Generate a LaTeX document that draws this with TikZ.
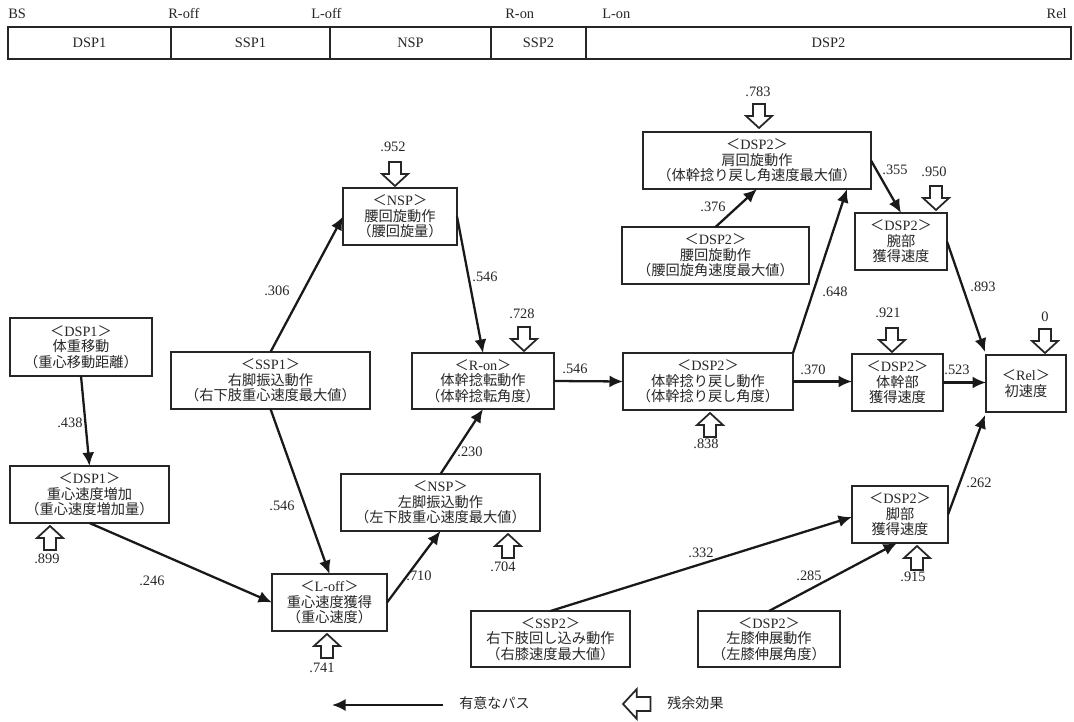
\documentclass[tikz,border=0pt]{standalone}
\usepackage{fontspec}
\setmainfont{Liberation Serif}
\newfontfamily\cjk{Noto Sans CJK JP}
\usetikzlibrary{arrows.meta,calc}
\newcommand\tagx[1]{＜{\rmfamily #1}＞}
\begin{document}
\begin{tikzpicture}[x={(0.02cm,0)},y={(0,-0.02cm)},
  bx/.style 2 args={draw=black!85, line width=1.1pt, inner sep=0pt, outer sep=0pt, align=center,
    minimum width=#1*0.02cm, minimum height=#2*0.02cm,
    font=\cjk\fontsize{8.1}{8.9}\selectfont, text=black!85},
  seg/.style 2 args={draw=black!85, line width=1pt, inner sep=0pt, outer sep=0pt,
    minimum width=#1*0.02cm, minimum height=#2*0.02cm,
    font=\fontsize{8.2}{9}\selectfont, text=black!85},
  arr/.style={draw=black!90, line width=1.3pt, -{Latex[length=0.27cm,width=0.24cm]}},
  lbl/.style={font=\fontsize{8.2}{9}\selectfont, inner sep=0pt, text=black!85},
  jlbl/.style={font=\cjk\fontsize{8}{9}\selectfont, inner sep=0pt, text=black!85},
  resline/.style={draw=black!85, line width=1pt, fill=white, line join=miter},
  resid/.pic={\path[resline] (-6,-24) -- (6,-24) -- (6,-12) -- (13,-12) -- (0,0) -- (-13,-12) -- (-6,-12) -- cycle;}
]
\useasboundingbox (0,0) rectangle (1074,722);

% timeline
\node[seg={163}{32}] (tA) at (89.5,43) {DSP1};
\node[seg={159}{32}] (tB) at (250.5,43) {SSP1};
\node[seg={161}{32}] (tC) at (410.5,43) {NSP};
\node[seg={95}{32}] (tD) at (538.5,43) {SSP2};
\node[seg={485}{32}] (tE) at (828.5,43) {DSP2};
\node[lbl, anchor=west] (mBS) at (8,14) {BS};
\node[lbl, anchor=west] (mRoff) at (168,14) {R-off};
\node[lbl, anchor=west] (mLoff) at (311,14) {L-off};
\node[lbl, anchor=west] (mRon) at (505,14) {R-on};
\node[lbl, anchor=west] (mLon) at (602,14) {L-on};
\node[lbl, anchor=east] (mRel) at (1067,14) {Rel};

% boxes
\node[bx={142}{58}] (d1a) at (81,347) {\tagx{DSP1}\\体重移動\\（重心移動距離）};
\node[bx={159}{57}] (d1b) at (89.5,494.5) {\tagx{DSP1}\\重心速度増加\\（重心速度増加量）};
\node[bx={199}{57}] (s1) at (270.5,380.5) {\tagx{SSP1}\\右脚振込動作\\（右下肢重心速度最大値）};
\node[bx={114}{57}] (nspw) at (400,216.5) {\tagx{NSP}\\腰回旋動作\\（腰回旋量）};
\node[bx={142}{56}] (ron) at (483,381) {\tagx{R-on}\\体幹捻転動作\\（体幹捻転角度）};
\node[bx={199}{57}] (nspl) at (440.5,502.5) {\tagx{NSP}\\左脚振込動作\\（左下肢重心速度最大値）};
\node[bx={115}{57}] (loff) at (329.5,602.5) {\tagx{L-off}\\重心速度獲得\\（重心速度）};
\node[bx={228}{57}] (sh) at (757,160.5) {\tagx{DSP2}\\肩回旋動作\\（体幹捻り戻し角速度最大値）};
\node[bx={187}{57}] (w2) at (715.5,255.5) {\tagx{DSP2}\\腰回旋動作\\（腰回旋角速度最大値）};
\node[bx={92}{57}] (arm) at (901,241.5) {\tagx{DSP2}\\腕部\\獲得速度};
\node[bx={170}{57}] (tw) at (708,381.5) {\tagx{DSP2}\\体幹捻り戻し動作\\（体幹捻り戻し角度）};
\node[bx={91}{57}] (trunk) at (897.5,382.5) {\tagx{DSP2}\\体幹部\\獲得速度};
\node[bx={80}{57}] (rel) at (1026,383.5) {\tagx{Rel}\\初速度};
\node[bx={96}{57}] (leg) at (900,514.5) {\tagx{DSP2}\\脚部\\獲得速度};
\node[bx={159}{56}] (ssp2) at (550.5,639) {\tagx{SSP2}\\右下肢回し込み動作\\（右膝速度最大値）};
\node[bx={142}{56}] (knee) at (769,639) {\tagx{DSP2}\\左膝伸展動作\\（左膝伸展角度）};

% paths
\draw[arr] (d1a.south) -- (d1b.north);
\draw[arr] (d1b.south) -- (loff.west);
\draw[arr] (s1.north) -- (nspw.west);
\draw[arr] (s1.south) -- (loff.north);
\draw[arr] (nspw.east) -- (ron.north);
\draw[arr] (loff.east) -- (nspl.south);
\draw[arr] (nspl.north) -- (ron.south);
\draw[arr] (ron.east) -- (tw.west);
\draw[arr] (tw.north east) -- ($(sh.south east)+(-24,0)$);
\draw[arr] (w2.north) -- (sh.south);
\draw[arr] (sh.east) -- (arm.north);
\draw[arr] (tw.east) -- (tw.east -| trunk.west);
\draw[arr] (arm.east) -- ($(rel.north west)+(-1,-3)$);
\draw[arr] (trunk.east) -- (trunk.east -| rel.west);
\draw[arr] (leg.east) -- ($(rel.south west)+(-1,3)$);
\draw[arr] (ssp2.north) -- ($(leg.west)+(0,2.5)$);
\draw[arr] (knee.north) -- ($(leg.south)+(-3,0)$);

% path coefficients
\node[lbl] (c1) at (70,423) {.438};
\node[lbl] (c2) at (152,581) {.246};
\node[lbl] (c3) at (277,291) {.306};
\node[lbl] (c4) at (282,506) {.546};
\node[lbl] (c5) at (485,277) {.546};
\node[lbl] (c6) at (419,576) {.710};
\node[lbl] (c7) at (470,452) {.230};
\node[lbl] (c8) at (575,369) {.546};
\node[lbl] (c9) at (835,292) {.648};
\node[lbl] (c10) at (713,207) {.376};
\node[lbl] (c11) at (895,170) {.355};
\node[lbl] (c12) at (813,370) {.370};
\node[lbl] (c13) at (983,287) {.893};
\node[lbl] (c14) at (957,370) {.523};
\node[lbl] (c15) at (979,483) {.262};
\node[lbl] (c16) at (701,553) {.332};
\node[lbl] (c17) at (809,576) {.285};

% residuals
\pic at (395,186) {resid};
\node[lbl] (r1) at (393,147) {.952};
\pic at (524,351) {resid};
\node[lbl] (r2) at (522,314) {.728};
\pic at (759,128) {resid};
\node[lbl] (r3) at (758,92) {.783};
\pic at (936,210) {resid};
\node[lbl] (r4) at (934,172) {.950};
\pic at (892,352) {resid};
\node[lbl] (r5) at (888,313) {.921};
\pic at (1045,353) {resid};
\node[lbl] (r6) at (1045,317) {0};
\pic[rotate=180] at (50,526) {resid};
\node[lbl] (r7) at (47,559) {.899};
\pic[rotate=180] at (508,534) {resid};
\node[lbl] (r8) at (503,567) {.704};
\pic[rotate=180] at (327,634) {resid};
\node[lbl] (r9) at (322,668) {.741};
\pic[rotate=180] at (710,413) {resid};
\node[lbl] (r10) at (706,444) {.838};
\pic[rotate=180] at (917,546) {resid};
\node[lbl] (r11) at (913,577) {.915};

% legend
\coordinate (lgS) at (443,705);
\coordinate (lgE) at (332,705);
\draw[arr] (lgS) -- (lgE);
\node[jlbl, anchor=west] (lg1) at (459,703) {有意なパス};
\pic[rotate=-90, scale=1.15] at (623,704) {resid};
\node[jlbl, anchor=west] (lg2) at (667,703) {残余効果};
\end{tikzpicture}
\end{document}
